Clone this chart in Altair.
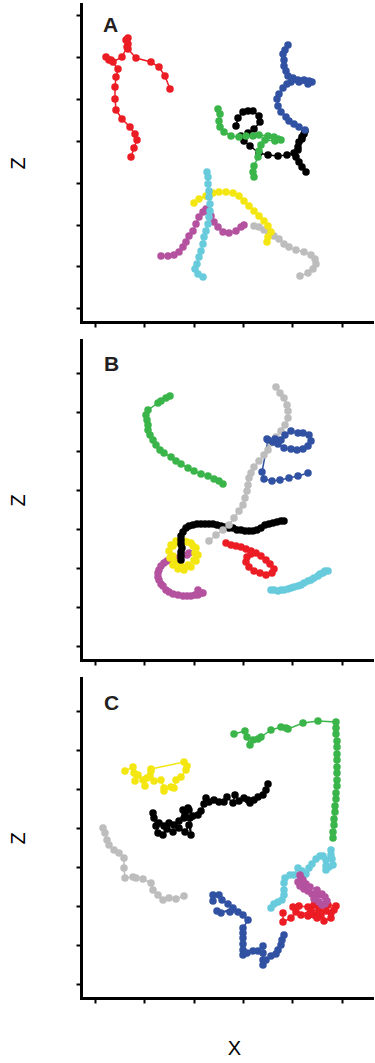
import altair as alt
import pandas as pd

# Cell tracks, (x, z) positions in µm from the lower-left corner of each field.
# ---------------- field A ----------------
A_RED = [(89, 233), (84, 246), (78, 255), (70, 260), (55, 264), (47, 273), (47, 278), (45, 282), (47, 284),
         (46, 275), (41, 265), (32, 260), (28, 262), (25, 265), (30, 262), (37, 253), (35, 245), (34, 235),
         (34, 223), (35, 212), (41, 203), (49, 195), (54, 188), (56, 182), (53, 174), (50, 165)]
A_BLUE = [(207, 277), (204, 272), (202, 268), (203, 262), (203, 256), (205, 251), (207, 246), (212, 244),
          (217, 242), (223, 242), (228, 241), (231, 240), (227, 238), (218, 240), (210, 240), (206, 238),
          (202, 234), (198, 228), (196, 223), (197, 216), (200, 210), (205, 205), (208, 201), (213, 198),
          (218, 195), (224, 192)]
A_BLACK = [(155, 196), (157, 204), (162, 210), (167, 211), (172, 211), (178, 206), (179, 200), (173, 193),
           (167, 189), (160, 186), (163, 181), (169, 176), (178, 169), (187, 167), (197, 166), (206, 167),
           (213, 169), (217, 175), (218, 180), (221, 185), (223, 188), (224, 191), (221, 183), (217, 172),
           (215, 165), (218, 160), (221, 155), (225, 150)]
A_GREEN = [(137, 213), (139, 208), (138, 201), (139, 195), (143, 190), (150, 186), (158, 185), (165, 186),
           (172, 186), (178, 187), (187, 186), (193, 185), (197, 183), (200, 182), (194, 181), (184, 182),
           (180, 177), (178, 171), (177, 165), (173, 156), (172, 150), (173, 145)]
A_CYAN = [(126, 150), (127, 145), (127, 138), (128, 131), (128, 125), (129, 118), (129, 111), (128, 105),
          (127, 98), (125, 91), (123, 85), (122, 78), (120, 71), (118, 65), (116, 58), (114, 53),
          (117, 48), (122, 45)]
A_YELLOW = [(113, 119), (118, 123), (125, 126), (132, 129), (138, 130), (145, 130), (152, 129), (158, 126),
            (163, 121), (168, 116), (173, 111), (178, 106), (183, 101), (187, 96), (190, 90), (187, 85),
            (186, 80)]
A_MAGENTA = [(80, 66), (87, 66), (93, 67), (98, 70), (102, 75), (105, 80), (108, 86), (112, 91), (115, 98),
             (118, 105), (122, 110), (125, 113), (128, 111), (130, 106), (133, 100), (137, 95), (142, 90),
             (148, 89), (155, 91), (160, 95), (163, 97)]
A_GRAY = [(173, 96), (178, 95), (183, 92), (188, 90), (193, 86), (198, 83), (203, 78), (208, 75), (215, 72),
          (223, 70), (230, 67), (234, 63), (235, 58), (232, 53), (227, 49), (219, 46)]

# ---------------- field B ----------------
B_GREEN = [(89, 264), (85, 262), (80, 259), (77, 257), (67, 250), (65, 245), (66, 240), (67, 235), (67, 230),
           (69, 225), (72, 220), (75, 215), (79, 210), (83, 207), (90, 203), (95, 199), (100, 196), (107, 192),
           (113, 189), (120, 186), (127, 184), (133, 181), (138, 179), (142, 176)]
B_GRAY = [(195, 273), (199, 267), (203, 262), (206, 255), (207, 249), (207, 242), (204, 235), (200, 229),
          (195, 223), (190, 217), (187, 210), (183, 205), (178, 199), (173, 193), (170, 187), (168, 182),
          (167, 175), (166, 169), (164, 162), (162, 155), (158, 149), (153, 142), (148, 135), (142, 130),
          (135, 125), (128, 119)]
B_BLUE = [(227, 187), (217, 184), (208, 182), (199, 180), (191, 179), (183, 181), (181, 188), (187, 220),
          (192, 218), (197, 216), (203, 212), (210, 211), (216, 210), (222, 211), (227, 214), (230, 219),
          (228, 225), (222, 227), (217, 227), (210, 229), (204, 225), (200, 220), (194, 221), (186, 221)]
B_BLACK = [(100, 100), (100, 104), (100, 108), (101, 112), (100, 116), (100, 120), (100, 124), (102, 128),
           (105, 132), (108, 134), (112, 135), (116, 136), (120, 136), (124, 136), (128, 136), (132, 136),
           (136, 135), (140, 134), (144, 133), (148, 132), (152, 132), (156, 130), (160, 130), (164, 129),
           (168, 129), (172, 129), (176, 130), (180, 132), (184, 135), (188, 136), (192, 137), (196, 138),
           (200, 139), (203, 139)]
B_YELLOW = [(90, 115), (95, 119), (103, 119), (110, 117), (115, 112), (117, 105), (115, 99), (110, 93),
            (103, 90), (97, 91), (92, 95), (89, 102), (88, 109), (92, 114), (98, 117), (106, 118), (112, 114),
            (114, 107), (113, 100), (107, 95), (100, 94), (94, 98), (92, 104)]
B_MAGENTA = [(108, 107), (106, 105), (100, 105), (94, 102), (90, 101), (86, 99), (83, 97), (80, 94), (78, 90),
             (77, 87), (77, 83), (78, 80), (80, 76), (82, 74), (85, 70), (88, 68), (92, 66), (97, 65),
             (102, 64), (106, 64), (110, 64), (114, 65), (117, 65), (120, 67), (122, 67), (117, 70)]
B_RED = [(145, 117), (150, 115), (155, 114), (160, 113), (165, 111), (170, 109), (175, 107), (180, 104),
         (185, 100), (189, 96), (193, 91), (191, 87), (185, 85), (179, 87), (173, 89), (168, 93), (165, 98),
         (166, 103), (170, 106)]
B_CYAN = [(190, 70), (193, 70), (197, 69), (200, 70), (203, 70), (207, 71), (210, 72), (213, 73), (217, 74),
          (220, 75), (223, 77), (227, 79), (230, 80), (233, 82), (237, 84), (239, 86), (242, 87), (244, 89),
          (247, 89)]

# ---------------- field C ----------------
C_GREEN = [(153, 264), (164, 267), (166, 261), (169, 253), (172, 258), (177, 259), (180, 261), (190, 268),
           (200, 271), (205, 270), (207, 269), (222, 275), (237, 277), (255, 276), (255, 270), (255, 264),
           (256, 257), (256, 251), (256, 244), (256, 238), (256, 231), (256, 225), (256, 218), (256, 212),
           (255, 205), (255, 199), (254, 192), (254, 186), (253, 179), (253, 173), (252, 166), (252, 160)]
C_YELLOW = [(44, 227), (52, 231), (53, 225), (54, 217), (57, 223), (62, 218), (64, 212), (66, 220), (70, 227),
            (69, 222), (73, 217), (80, 218), (83, 210), (83, 207), (90, 211), (93, 210), (95, 218), (100, 221),
            (105, 228), (106, 232), (103, 236), (70, 229)]
C_BLACK = [(187, 214), (185, 208), (182, 203), (177, 201), (173, 198), (169, 195), (167, 198), (163, 200),
           (158, 197), (154, 203), (152, 195), (146, 201), (143, 196), (138, 196), (133, 198), (128, 196),
           (125, 200), (123, 194), (120, 187), (117, 183), (112, 182), (108, 188), (107, 190), (102, 188),
           (103, 180), (98, 177), (93, 173), (88, 175), (83, 172), (78, 175), (73, 180), (72, 185), (75, 172),
           (77, 165), (82, 163), (86, 169), (92, 166), (98, 170), (104, 166), (108, 173), (110, 163),
           (109, 180), (104, 184)]
C_GRAY = [(22, 170), (24, 165), (26, 158), (28, 153), (33, 148), (38, 145), (43, 140), (43, 130), (44, 120),
          (52, 121), (55, 120), (62, 119), (70, 115), (72, 108), (77, 103), (82, 98), (88, 100), (95, 99),
          (103, 102)]
C_BLUE = [(132, 97), (132, 103), (138, 103), (141, 98), (147, 94), (152, 90), (140, 85), (136, 87), (149, 86),
          (157, 86), (162, 83), (167, 78), (162, 70), (162, 65), (162, 60), (162, 54), (162, 48), (162, 43),
          (166, 45), (172, 47), (177, 47), (182, 52), (182, 45), (182, 38), (182, 33), (185, 38), (190, 42),
          (195, 44), (197, 48), (200, 53), (201, 58), (203, 63)]
C_CYAN = [(190, 90), (193, 94), (197, 96), (201, 98), (203, 103), (203, 108), (203, 115), (204, 120),
          (209, 123), (213, 123), (217, 130), (221, 127), (225, 124), (228, 130), (231, 134), (235, 139),
          (239, 142), (242, 142), (245, 138), (245, 132), (245, 128), (248, 131), (252, 133), (251, 139),
          (250, 143), (250, 148)]
C_MAGENTA = [(219, 123), (220, 120), (217, 116), (219, 112), (223, 109), (227, 107), (231, 104), (234, 102),
             (238, 103), (241, 104), (244, 101), (246, 97), (244, 94), (241, 93), (238, 96), (233, 99),
             (225, 114), (222, 118), (229, 111), (236, 108)]
C_RED = [(202, 85), (202, 76), (210, 80), (215, 86), (212, 91), (218, 92), (227, 91), (233, 93), (238, 90),
         (247, 93), (255, 92), (253, 88), (250, 85), (250, 80), (243, 77), (240, 82), (233, 83), (227, 82),
         (220, 83), (230, 88), (238, 87), (245, 87), (236, 80)]

TRACK_NAMES = ["red", "blue", "black", "green", "yellow", "cyan", "magenta", "gray"]
TRACK_COLORS = ["#EC1C24", "#3152A3", "#000000", "#3AB54A", "#F4E711", "#67CBDC", "#B4529F", "#BDBDBD"]

PANEL_LABELS = ["A", "B", "C"]
LABEL_X = [22, 23, 23]
LABEL_Z = [290, 289, 288]

# Tick positions (µm) along each axis; the axes carry no tick labels.
X_TICKS = [14, 63.3, 112.6, 161.9, 211.2, 260.5]
Z_TICKS_A = [13.7, 55.6, 97.5, 139.4, 181.3, 223.2, 265.1, 307.0]
Z_TICKS_BC = [13.7, 52.7, 91.8, 130.8, 169.8, 208.8, 247.8, 286.8]

PLOT_W = 293
FONT = "Liberation Sans"

color_scale = alt.Scale(domain=TRACK_NAMES, range=TRACK_COLORS)


def track_frame(tracks, draw_order):
    rows = []
    for rank, name in enumerate(draw_order):
        for i, (x, z) in enumerate(tracks[name]):
            rows.append({"track": name, "i": i, "draw": rank * 1000 + i, "x": x, "z": z})
    return pd.DataFrame(rows)


def field(tracks, draw_order, z_top, z_ticks, idx, x_title):
    df = track_frame(tracks, draw_order)
    xs = alt.Scale(domain=[0, PLOT_W], nice=False, zero=False)
    zs = alt.Scale(domain=[0, z_top], nice=False, zero=False)
    axis_style = dict(labels=False, grid=False, domainColor="black", domainWidth=3, domainCap="square",
                      tickColor="black", tickWidth=2, tickSize=5, titleFont=FONT, titleFontSize=20,
                      titleFontWeight="normal", titleColor="black")
    if x_title:
        x_axis = alt.Axis(values=X_TICKS, title=x_title, titlePadding=34, titleX=153, **axis_style)
    else:
        x_axis = alt.Axis(values=X_TICKS, title=None, **axis_style)
    z_axis = alt.Axis(values=z_ticks, title="Z", titlePadding=47, **axis_style)

    X = alt.X("x:Q", scale=xs, axis=x_axis)
    Z = alt.Y("z:Q", scale=zs, axis=z_axis)
    C = alt.Color("track:N", scale=color_scale, legend=None)

    paths = alt.Chart(df).mark_line(strokeWidth=1.5).encode(
        x=X, y=Z, color=C, detail="track:N", order=alt.Order("i:Q"))
    beads = alt.Chart(df).mark_circle(size=56, opacity=1).encode(
        x=X, y=Z, color=C, order=alt.Order("draw:Q"))
    lab = pd.DataFrame({"label": [PANEL_LABELS[idx]], "x": [LABEL_X[idx]], "z": [LABEL_Z[idx]]})
    letter = alt.Chart(lab).mark_text(align="left", baseline="alphabetic", font=FONT, fontWeight="bold",
                                      fontSize=21, color="#231F20").encode(x=X, y=Z, text="label:N")
    return alt.layer(paths, beads, letter).properties(width=PLOT_W, height=z_top)


panel_a = field(
    {"red": A_RED, "blue": A_BLUE, "black": A_BLACK, "green": A_GREEN, "yellow": A_YELLOW,
     "cyan": A_CYAN, "magenta": A_MAGENTA, "gray": A_GRAY},
    ["gray", "yellow", "magenta", "cyan", "black", "green", "blue", "red"],
    318, Z_TICKS_A, 0, None)
panel_b = field(
    {"red": B_RED, "blue": B_BLUE, "black": B_BLACK, "green": B_GREEN, "yellow": B_YELLOW,
     "cyan": B_CYAN, "magenta": B_MAGENTA, "gray": B_GRAY},
    ["green", "magenta", "yellow", "black", "gray", "blue", "red", "cyan"],
    320, Z_TICKS_BC, 1, None)
panel_c = field(
    {"red": C_RED, "blue": C_BLUE, "black": C_BLACK, "green": C_GREEN, "yellow": C_YELLOW,
     "cyan": C_CYAN, "magenta": C_MAGENTA, "gray": C_GRAY},
    ["gray", "green", "yellow", "black", "blue", "cyan", "red", "magenta"],
    320, Z_TICKS_BC, 2, "X")

chart = alt.vconcat(panel_a, panel_b, panel_c, spacing=12).properties(
    padding={"left": 8, "right": 0, "top": 4, "bottom": 0}
).configure_view(strokeWidth=0)

chart.save("out.html", embed_options={"renderer": "svg", "actions": False})
